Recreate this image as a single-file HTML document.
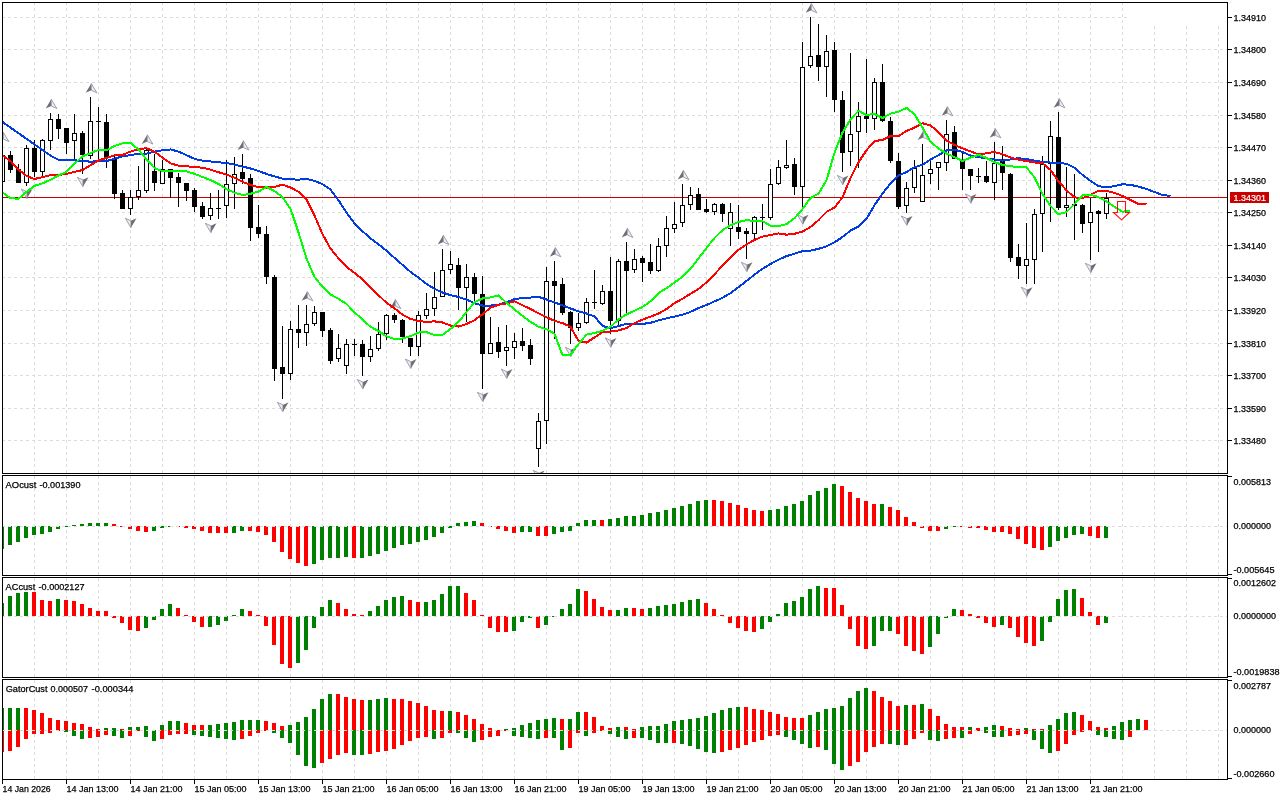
<!DOCTYPE html><html><head><meta charset="utf-8"><style>html,body{margin:0;padding:0;background:#fff;}svg{display:block;}text{font-family:"Liberation Sans",sans-serif;}svg text{opacity:0.999}</style></head><body>
<svg width="1280" height="800" viewBox="0 0 1280 800">
<rect x="0" y="0" width="1280" height="800" fill="#fff"/>
<path d="M34.5 2V473 M66.5 2V473 M98.5 2V473 M130.5 2V473 M162.5 2V473 M194.5 2V473 M226.5 2V473 M258.5 2V473 M290.5 2V473 M322.5 2V473 M354.5 2V473 M386.5 2V473 M418.5 2V473 M450.5 2V473 M482.5 2V473 M514.5 2V473 M546.5 2V473 M578.5 2V473 M610.5 2V473 M642.5 2V473 M674.5 2V473 M706.5 2V473 M738.5 2V473 M770.5 2V473 M802.5 2V473 M834.5 2V473 M866.5 2V473 M898.5 2V473 M930.5 2V473 M962.5 2V473 M994.5 2V473 M1026.5 2V473 M1058.5 2V473 M1090.5 2V473 M1122.5 2V473 M1154.5 26V473 M1186.5 26V473 M1218.5 26V473 M34.5 476V575 M66.5 476V575 M98.5 476V575 M130.5 476V575 M162.5 476V575 M194.5 476V575 M226.5 476V575 M258.5 476V575 M290.5 476V575 M322.5 476V575 M354.5 476V575 M386.5 476V575 M418.5 476V575 M450.5 476V575 M482.5 476V575 M514.5 476V575 M546.5 476V575 M578.5 476V575 M610.5 476V575 M642.5 476V575 M674.5 476V575 M706.5 476V575 M738.5 476V575 M770.5 476V575 M802.5 476V575 M834.5 476V575 M866.5 476V575 M898.5 476V575 M930.5 476V575 M962.5 476V575 M994.5 476V575 M1026.5 476V575 M1058.5 476V575 M1090.5 476V575 M1122.5 476V575 M1154.5 476V575 M1186.5 476V575 M1218.5 476V575 M34.5 578V677 M66.5 578V677 M98.5 578V677 M130.5 578V677 M162.5 578V677 M194.5 578V677 M226.5 578V677 M258.5 578V677 M290.5 578V677 M322.5 578V677 M354.5 578V677 M386.5 578V677 M418.5 578V677 M450.5 578V677 M482.5 578V677 M514.5 578V677 M546.5 578V677 M578.5 578V677 M610.5 578V677 M642.5 578V677 M674.5 578V677 M706.5 578V677 M738.5 578V677 M770.5 578V677 M802.5 578V677 M834.5 578V677 M866.5 578V677 M898.5 578V677 M930.5 578V677 M962.5 578V677 M994.5 578V677 M1026.5 578V677 M1058.5 578V677 M1090.5 578V677 M1122.5 578V677 M1154.5 578V677 M1186.5 578V677 M1218.5 578V677 M34.5 680V779 M66.5 680V779 M98.5 680V779 M130.5 680V779 M162.5 680V779 M194.5 680V779 M226.5 680V779 M258.5 680V779 M290.5 680V779 M322.5 680V779 M354.5 680V779 M386.5 680V779 M418.5 680V779 M450.5 680V779 M482.5 680V779 M514.5 680V779 M546.5 680V779 M578.5 680V779 M610.5 680V779 M642.5 680V779 M674.5 680V779 M706.5 680V779 M738.5 680V779 M770.5 680V779 M802.5 680V779 M834.5 680V779 M866.5 680V779 M898.5 680V779 M930.5 680V779 M962.5 680V779 M994.5 680V779 M1026.5 680V779 M1058.5 680V779 M1090.5 680V779 M1122.5 680V779 M1154.5 680V779 M1186.5 680V779 M1218.5 680V779 M2 17.5H1128 M2 49.5H1227 M2 82.5H1227 M2 115.5H1227 M2 147.5H1227 M2 180.5H1227 M2 212.5H1227 M2 245.5H1227 M2 277.5H1227 M2 310.5H1227 M2 343.5H1227 M2 375.5H1227 M2 408.5H1227 M2 440.5H1227" stroke="#dcdcdc" stroke-width="1" stroke-dasharray="3 3" fill="none" shape-rendering="crispEdges"/>
<defs>
<clipPath id="cm"><rect x="3" y="3" width="1224" height="470"/></clipPath>
<clipPath id="c1"><rect x="3" y="476" width="1224" height="99"/></clipPath>
<clipPath id="c2"><rect x="3" y="578" width="1224" height="99"/></clipPath>
<clipPath id="c3"><rect x="3" y="680" width="1224" height="99"/></clipPath>
</defs>
<g clip-path="url(#c1)" shape-rendering="crispEdges">
<path d="M0 526h4v23h-4zM8 526h4v19h-4zM16 526h4v16h-4zM24 526h4v12h-4zM32 526h4v9h-4zM40 526h4v8h-4zM48 526h4v6h-4zM56 526h4v3h-4zM64 526h4v1h-4zM72 525h4v1h-4zM80 524h4v2h-4zM88 523h4v3h-4zM96 523h4v3h-4zM104 523h4v3h-4zM152 526h4v5h-4zM160 526h4v2h-4zM168 526h4v1h-4zM232 526h4v7h-4zM240 526h4v5h-4zM312 526h4v38h-4zM320 526h4v34h-4zM328 526h4v32h-4zM336 526h4v32h-4zM344 526h4v31h-4zM360 526h4v32h-4zM368 526h4v30h-4zM376 526h4v28h-4zM384 526h4v25h-4zM392 526h4v22h-4zM400 526h4v19h-4zM408 526h4v18h-4zM416 526h4v16h-4zM424 526h4v14h-4zM432 526h4v11h-4zM440 526h4v7h-4zM448 526h4v2h-4zM456 523h4v3h-4zM464 522h4v4h-4zM472 521h4v5h-4zM520 526h4v6h-4zM528 526h4v6h-4zM552 526h4v8h-4zM560 526h4v6h-4zM568 526h4v5h-4zM576 523h4v3h-4zM584 520h4v6h-4zM592 520h4v6h-4zM608 519h4v7h-4zM616 518h4v8h-4zM624 516h4v10h-4zM632 516h4v10h-4zM640 515h4v11h-4zM648 513h4v13h-4zM656 512h4v14h-4zM664 510h4v16h-4zM672 508h4v18h-4zM680 506h4v20h-4zM688 504h4v22h-4zM696 501h4v25h-4zM704 500h4v26h-4zM768 510h4v16h-4zM776 509h4v17h-4zM784 506h4v20h-4zM792 504h4v22h-4zM800 501h4v25h-4zM808 495h4v31h-4zM816 491h4v35h-4zM824 488h4v38h-4zM832 484h4v42h-4zM880 504h4v22h-4zM944 526h4v3h-4zM952 526h4v1h-4zM1048 526h4v21h-4zM1056 526h4v15h-4zM1064 526h4v12h-4zM1072 526h4v9h-4zM1080 526h4v8h-4zM1104 526h4v12h-4z" fill="#008000"/>
<path d="M112 524h4v2h-4zM120 526h4v1h-4zM128 526h4v3h-4zM136 526h4v5h-4zM144 526h4v6h-4zM176 526h4v1h-4zM184 526h4v2h-4zM192 526h4v3h-4zM200 526h4v5h-4zM208 526h4v7h-4zM216 526h4v7h-4zM224 526h4v7h-4zM248 526h4v5h-4zM256 526h4v6h-4zM264 526h4v9h-4zM272 526h4v16h-4zM280 526h4v26h-4zM288 526h4v33h-4zM296 526h4v37h-4zM304 526h4v40h-4zM352 526h4v32h-4zM480 523h4v3h-4zM488 526h4v1h-4zM496 526h4v3h-4zM504 526h4v5h-4zM512 526h4v7h-4zM536 526h4v10h-4zM544 526h4v10h-4zM600 520h4v6h-4zM712 500h4v26h-4zM720 501h4v25h-4zM728 503h4v23h-4zM736 505h4v21h-4zM744 508h4v18h-4zM752 510h4v16h-4zM760 511h4v15h-4zM840 486h4v40h-4zM848 492h4v34h-4zM856 498h4v28h-4zM864 501h4v25h-4zM872 504h4v22h-4zM888 507h4v19h-4zM896 510h4v16h-4zM904 517h4v9h-4zM912 522h4v4h-4zM920 526h4v2h-4zM928 526h4v5h-4zM936 526h4v5h-4zM960 526h4v1h-4zM968 526h4v2h-4zM976 526h4v2h-4zM984 526h4v4h-4zM992 526h4v6h-4zM1000 526h4v6h-4zM1008 526h4v8h-4zM1016 526h4v13h-4zM1024 526h4v18h-4zM1032 526h4v22h-4zM1040 526h4v24h-4zM1088 526h4v10h-4zM1096 526h4v12h-4z" fill="#ff0000"/>
</g>
<g clip-path="url(#c2)" shape-rendering="crispEdges">
<path d="M0 603h4v13h-4zM8 596h4v20h-4zM16 593h4v23h-4zM24 592h4v24h-4zM56 599h4v17h-4zM144 616h4v12h-4zM152 616h4v4h-4zM160 609h4v7h-4zM168 604h4v12h-4zM208 616h4v11h-4zM216 616h4v9h-4zM224 616h4v5h-4zM232 615h4v1h-4zM240 609h4v7h-4zM296 616h4v47h-4zM304 616h4v34h-4zM312 616h4v12h-4zM320 607h4v9h-4zM328 600h4v16h-4zM368 611h4v5h-4zM376 606h4v10h-4zM384 600h4v16h-4zM392 597h4v19h-4zM400 596h4v20h-4zM424 602h4v14h-4zM432 600h4v16h-4zM440 594h4v22h-4zM448 586h4v30h-4zM456 586h4v30h-4zM512 616h4v15h-4zM520 616h4v6h-4zM528 616h4v2h-4zM544 616h4v9h-4zM552 616h4v1h-4zM560 609h4v7h-4zM568 604h4v12h-4zM576 589h4v27h-4zM616 610h4v6h-4zM624 608h4v8h-4zM648 608h4v8h-4zM656 606h4v10h-4zM664 605h4v11h-4zM672 604h4v12h-4zM680 602h4v14h-4zM688 600h4v16h-4zM696 599h4v17h-4zM760 616h4v13h-4zM768 616h4v6h-4zM776 614h4v2h-4zM784 603h4v13h-4zM792 601h4v15h-4zM800 597h4v19h-4zM808 589h4v27h-4zM816 586h4v30h-4zM872 616h4v30h-4zM880 616h4v15h-4zM888 616h4v15h-4zM928 616h4v31h-4zM936 616h4v18h-4zM944 616h4v2h-4zM952 609h4v7h-4zM1000 616h4v9h-4zM1040 616h4v25h-4zM1048 616h4v6h-4zM1056 599h4v17h-4zM1064 590h4v26h-4zM1072 589h4v27h-4zM1104 616h4v7h-4z" fill="#008000"/>
<path d="M32 592h4v24h-4zM40 600h4v16h-4zM48 601h4v15h-4zM64 600h4v16h-4zM72 601h4v15h-4zM80 604h4v12h-4zM88 608h4v8h-4zM96 611h4v5h-4zM104 611h4v5h-4zM112 616h4v2h-4zM120 616h4v7h-4zM128 616h4v14h-4zM136 616h4v15h-4zM176 608h4v8h-4zM184 615h4v1h-4zM192 616h4v6h-4zM200 616h4v11h-4zM248 611h4v5h-4zM256 615h4v1h-4zM264 616h4v10h-4zM272 616h4v29h-4zM280 616h4v48h-4zM288 616h4v52h-4zM336 603h4v13h-4zM344 609h4v7h-4zM352 614h4v2h-4zM360 615h4v1h-4zM408 600h4v16h-4zM416 602h4v14h-4zM464 593h4v23h-4zM472 600h4v16h-4zM480 615h4v1h-4zM488 616h4v12h-4zM496 616h4v16h-4zM504 616h4v16h-4zM536 616h4v12h-4zM584 591h4v25h-4zM592 599h4v17h-4zM600 607h4v9h-4zM608 610h4v6h-4zM632 608h4v8h-4zM640 609h4v7h-4zM704 603h4v13h-4zM712 609h4v7h-4zM720 615h4v1h-4zM728 616h4v7h-4zM736 616h4v12h-4zM744 616h4v15h-4zM752 616h4v16h-4zM824 588h4v28h-4zM832 588h4v28h-4zM840 605h4v11h-4zM848 616h4v13h-4zM856 616h4v30h-4zM864 616h4v33h-4zM896 616h4v18h-4zM904 616h4v30h-4zM912 616h4v35h-4zM920 616h4v38h-4zM960 610h4v6h-4zM968 614h4v2h-4zM976 616h4v2h-4zM984 616h4v7h-4zM992 616h4v11h-4zM1008 616h4v12h-4zM1016 616h4v21h-4zM1024 616h4v27h-4zM1032 616h4v30h-4zM1080 598h4v18h-4zM1088 612h4v4h-4zM1096 616h4v9h-4z" fill="#ff0000"/>
</g>
<g clip-path="url(#c3)" shape-rendering="crispEdges">
<path d="M0 708h4v22h-4zM8 708h4v22h-4zM16 708h4v22h-4zM104 728h4v2h-4zM112 728h4v2h-4zM128 727h4v3h-4zM136 727h4v3h-4zM144 726h4v4h-4zM160 725h4v5h-4zM168 721h4v9h-4zM176 721h4v9h-4zM208 725h4v5h-4zM216 724h4v6h-4zM224 723h4v7h-4zM232 722h4v8h-4zM240 720h4v10h-4zM248 720h4v10h-4zM256 720h4v10h-4zM288 725h4v5h-4zM296 722h4v8h-4zM304 717h4v13h-4zM312 709h4v21h-4zM320 699h4v31h-4zM328 694h4v36h-4zM368 700h4v30h-4zM376 699h4v31h-4zM384 698h4v32h-4zM448 711h4v19h-4zM504 729h4v1h-4zM512 728h4v2h-4zM520 725h4v5h-4zM528 723h4v7h-4zM536 720h4v10h-4zM544 719h4v11h-4zM552 718h4v12h-4zM568 719h4v11h-4zM576 712h4v18h-4zM616 727h4v3h-4zM640 727h4v3h-4zM648 726h4v4h-4zM656 726h4v4h-4zM664 724h4v6h-4zM672 721h4v9h-4zM680 720h4v10h-4zM688 719h4v11h-4zM696 718h4v12h-4zM704 716h4v14h-4zM712 713h4v17h-4zM720 710h4v20h-4zM728 708h4v22h-4zM736 707h4v23h-4zM808 715h4v15h-4zM816 712h4v18h-4zM824 709h4v21h-4zM832 708h4v22h-4zM840 706h4v24h-4zM848 698h4v32h-4zM856 691h4v39h-4zM864 688h4v42h-4zM904 705h4v25h-4zM920 704h4v26h-4zM968 727h4v3h-4zM984 727h4v3h-4zM992 725h4v5h-4zM1024 728h4v2h-4zM1048 725h4v5h-4zM1056 719h4v11h-4zM1064 713h4v17h-4zM1072 712h4v18h-4zM1112 726h4v4h-4zM1120 722h4v8h-4zM1128 720h4v10h-4zM1136 719h4v11h-4z" fill="#008000"/>
<path d="M24 708h4v22h-4zM32 710h4v20h-4zM40 713h4v17h-4zM48 718h4v12h-4zM56 720h4v10h-4zM64 721h4v9h-4zM72 723h4v7h-4zM80 724h4v6h-4zM88 727h4v3h-4zM96 729h4v1h-4zM120 729h4v1h-4zM184 723h4v7h-4zM192 725h4v5h-4zM200 725h4v5h-4zM264 721h4v9h-4zM272 723h4v7h-4zM280 726h4v4h-4zM336 694h4v36h-4zM344 697h4v33h-4zM352 699h4v31h-4zM360 700h4v30h-4zM392 699h4v31h-4zM400 699h4v31h-4zM408 701h4v29h-4zM416 703h4v27h-4zM424 706h4v24h-4zM432 710h4v20h-4zM440 711h4v19h-4zM456 712h4v18h-4zM464 715h4v15h-4zM472 719h4v11h-4zM480 724h4v6h-4zM488 728h4v2h-4zM560 719h4v11h-4zM584 712h4v18h-4zM592 717h4v13h-4zM600 726h4v4h-4zM608 728h4v2h-4zM624 727h4v3h-4zM632 729h4v1h-4zM744 707h4v23h-4zM752 709h4v21h-4zM760 710h4v20h-4zM768 712h4v18h-4zM776 714h4v16h-4zM784 717h4v13h-4zM792 718h4v12h-4zM800 718h4v12h-4zM872 691h4v39h-4zM880 697h4v33h-4zM888 701h4v29h-4zM896 706h4v24h-4zM912 705h4v25h-4zM928 709h4v21h-4zM936 716h4v14h-4zM944 724h4v6h-4zM952 727h4v3h-4zM960 727h4v3h-4zM976 728h4v2h-4zM1000 726h4v4h-4zM1008 728h4v2h-4zM1016 729h4v1h-4zM1032 729h4v1h-4zM1040 729h4v1h-4zM1080 715h4v15h-4zM1088 721h4v9h-4zM1096 727h4v3h-4zM1104 728h4v2h-4zM1144 720h4v10h-4z" fill="#ff0000"/>
</g>
<g clip-path="url(#c3)" shape-rendering="crispEdges">
<path d="M64 730h4v2h-4zM72 730h4v6h-4zM80 730h4v9h-4zM112 730h4v6h-4zM120 730h4v8h-4zM144 730h4v7h-4zM152 730h4v11h-4zM192 730h4v5h-4zM200 730h4v6h-4zM208 730h4v7h-4zM216 730h4v8h-4zM224 730h4v9h-4zM232 730h4v10h-4zM272 730h4v3h-4zM280 730h4v8h-4zM288 730h4v13h-4zM296 730h4v25h-4zM304 730h4v36h-4zM312 730h4v38h-4zM352 730h4v25h-4zM360 730h4v25h-4zM432 730h4v9h-4zM456 730h4v3h-4zM464 730h4v8h-4zM472 730h4v12h-4zM512 730h4v6h-4zM520 730h4v7h-4zM528 730h4v8h-4zM536 730h4v9h-4zM552 730h4v8h-4zM560 730h4v20h-4zM584 730h4v6h-4zM608 730h4v4h-4zM616 730h4v7h-4zM624 730h4v9h-4zM640 730h4v8h-4zM648 730h4v10h-4zM656 730h4v13h-4zM664 730h4v13h-4zM680 730h4v14h-4zM688 730h4v16h-4zM696 730h4v19h-4zM704 730h4v22h-4zM712 730h4v23h-4zM784 730h4v7h-4zM792 730h4v10h-4zM800 730h4v14h-4zM808 730h4v18h-4zM824 730h4v20h-4zM832 730h4v34h-4zM840 730h4v40h-4zM888 730h4v14h-4zM896 730h4v15h-4zM928 730h4v10h-4zM936 730h4v11h-4zM960 730h4v8h-4zM984 730h4v3h-4zM992 730h4v7h-4zM1000 730h4v7h-4zM1032 730h4v10h-4zM1040 730h4v19h-4zM1048 730h4v23h-4zM1096 730h4v5h-4zM1104 730h4v7h-4zM1112 730h4v9h-4zM1120 730h4v10h-4z" fill="#008000"/>
<path d="M0 730h4v22h-4zM8 730h4v21h-4zM16 730h4v17h-4zM24 730h4v9h-4zM32 730h4v4h-4zM40 730h4v4h-4zM48 730h4v3h-4zM56 730h4v1h-4zM88 730h4v8h-4zM96 730h4v7h-4zM104 730h4v5h-4zM128 730h4v6h-4zM136 730h4v1h-4zM160 730h4v9h-4zM168 730h4v5h-4zM176 730h4v4h-4zM184 730h4v4h-4zM240 730h4v9h-4zM248 730h4v6h-4zM256 730h4v3h-4zM264 730h4v1h-4zM320 730h4v33h-4zM328 730h4v29h-4zM336 730h4v25h-4zM344 730h4v23h-4zM368 730h4v24h-4zM376 730h4v22h-4zM384 730h4v21h-4zM392 730h4v19h-4zM400 730h4v15h-4zM408 730h4v11h-4zM416 730h4v8h-4zM424 730h4v7h-4zM440 730h4v8h-4zM448 730h4v3h-4zM480 730h4v10h-4zM488 730h4v7h-4zM496 730h4v6h-4zM504 730h4v1h-4zM544 730h4v8h-4zM568 730h4v18h-4zM576 730h4v3h-4zM592 730h4v3h-4zM600 730h4v1h-4zM632 730h4v8h-4zM672 730h4v13h-4zM720 730h4v22h-4zM728 730h4v20h-4zM736 730h4v18h-4zM744 730h4v15h-4zM752 730h4v12h-4zM760 730h4v10h-4zM768 730h4v6h-4zM776 730h4v5h-4zM816 730h4v17h-4zM848 730h4v36h-4zM856 730h4v32h-4zM864 730h4v22h-4zM872 730h4v17h-4zM880 730h4v14h-4zM904 730h4v15h-4zM912 730h4v9h-4zM920 730h4v3h-4zM944 730h4v9h-4zM952 730h4v8h-4zM968 730h4v4h-4zM976 730h4v1h-4zM1008 730h4v6h-4zM1016 730h4v5h-4zM1024 730h4v4h-4zM1056 730h4v21h-4zM1064 730h4v14h-4zM1072 730h4v5h-4zM1080 730h4v2h-4zM1088 730h4v1h-4zM1128 730h4v7h-4z" fill="#ff0000"/>
</g>
<path d="M2 526.5H1227 M2 616.5H1227 M2 730.5H1227" stroke="#dcdcdc" stroke-width="1" stroke-dasharray="3 3" fill="none" shape-rendering="crispEdges"/>
<g clip-path="url(#cm)">
<path d="M3 197.5H1227" stroke="#c80000" stroke-width="1" shape-rendering="crispEdges"/>
<path d="M2.5 146V182M10.5 151V173M18.5 164V183M26.5 145V186M34.5 140V177M42.5 139V176M50.5 113V150M58.5 114V139M66.5 128V154M74.5 114V160M82.5 131V174M90.5 97V159M98.5 107V159M106.5 114V168M114.5 154V199M122.5 190V209M130.5 190V215M138.5 166V200M146.5 149V193M154.5 154V191M162.5 160V184M170.5 169V198M178.5 173V207M186.5 183V201M194.5 188V212M202.5 202V219M210.5 193V220M218.5 190V219M226.5 160V218M234.5 157V209M242.5 154V184M250.5 174V241M258.5 205V238M266.5 226V284M274.5 275V381M282.5 326V399M290.5 321V380M298.5 305V348M306.5 305V346M314.5 306V326M322.5 312V337M330.5 328V364M338.5 334V362M346.5 339V374M354.5 339V356M362.5 340V376M370.5 336V362M378.5 322V351M386.5 314V340M394.5 313V323M402.5 319V343M410.5 338V356M418.5 311V356M426.5 293V319M434.5 272V316M442.5 249V297M450.5 251V274M458.5 258V310M466.5 264V322M474.5 273V301M482.5 276V389M490.5 317V354M498.5 327V358M506.5 325V366M514.5 333V359M522.5 328V351M530.5 339V365M538.5 413V467M546.5 267V444M554.5 261V339M562.5 278V315M570.5 311V344M578.5 313V331M586.5 298V324M594.5 270V309M602.5 285V305M610.5 257V334M618.5 259V325M626.5 242V314M634.5 249V273M642.5 256V282M650.5 244V274M658.5 238V272M666.5 216V257M674.5 202V233M682.5 184V227M690.5 187V210M698.5 188V210M706.5 199V213M714.5 203V215M722.5 203V222M730.5 203V246M738.5 205V239M746.5 228V259M754.5 216V239M762.5 204V230M770.5 169V220M778.5 160V185M786.5 140V169M794.5 158V195M802.5 42V211M810.5 17V68M818.5 24V81M826.5 35V97M834.5 42V112M842.5 91V172M850.5 53V166M858.5 102V168M866.5 59V133M874.5 78V130M882.5 64V122M890.5 117V163M898.5 153V209M906.5 182V213M914.5 160V193M922.5 144V202M930.5 161V184M938.5 162V190M946.5 120V171M954.5 126V159M962.5 151V190M970.5 169V190M978.5 168V183M986.5 161V183M994.5 142V200M1002.5 146V190M1010.5 173V262M1018.5 244V279M1026.5 223V284M1034.5 209V284M1042.5 156V252M1050.5 121V222M1058.5 112V210M1066.5 167V217M1074.5 174V240M1082.5 204V233M1090.5 198V260M1098.5 210V252M1106.5 193V219" stroke="#000" stroke-width="1" fill="none" shape-rendering="crispEdges"/>
<path d="M8 155h5v15h-5zM16 169h5v14h-5zM32 148h5v24h-5zM56 119h5v10h-5zM64 128h5v15h-5zM80 133h5v22h-5zM96 121h5v1h-5zM104 122h5v36h-5zM112 158h5v36h-5zM120 193h5v16h-5zM152 171h5v12h-5zM168 169h5v9h-5zM176 177h5v6h-5zM184 183h5v8h-5zM192 190h5v17h-5zM200 206h5v11h-5zM216 208h5v1h-5zM240 172h5v7h-5zM248 178h5v50h-5zM256 227h5v7h-5zM264 234h5v43h-5zM272 277h5v92h-5zM280 367h5v7h-5zM296 329h5v4h-5zM320 312h5v19h-5zM328 330h5v31h-5zM352 344h5v1h-5zM360 344h5v13h-5zM392 315h5v5h-5zM400 320h5v17h-5zM408 338h5v9h-5zM456 265h5v23h-5zM472 277h5v17h-5zM480 294h5v60h-5zM496 342h5v10h-5zM520 341h5v5h-5zM528 345h5v14h-5zM552 281h5v5h-5zM560 284h5v29h-5zM568 312h5v16h-5zM592 302h5v1h-5zM608 291h5v30h-5zM624 261h5v10h-5zM640 258h5v5h-5zM648 262h5v9h-5zM696 194h5v16h-5zM704 209h5v3h-5zM720 204h5v10h-5zM736 227h5v5h-5zM744 231h5v3h-5zM760 217h5v1h-5zM792 164h5v23h-5zM816 55h5v12h-5zM832 50h5v50h-5zM840 100h5v53h-5zM864 116h5v3h-5zM880 82h5v39h-5zM888 121h5v40h-5zM896 161h5v46h-5zM952 132h5v27h-5zM960 159h5v10h-5zM968 169h5v7h-5zM976 176h5v1h-5zM984 176h5v6h-5zM1000 161h5v12h-5zM1008 174h5v84h-5zM1016 257h5v9h-5zM1056 137h5v71h-5zM1072 204h5v2h-5zM1080 205h5v19h-5zM1096 211h5v3h-5z" fill="#000" shape-rendering="crispEdges"/>
<g shape-rendering="crispEdges"><rect x="0.5" y="155.5" width="4" height="26" fill="#fff" stroke="#000" stroke-width="1"/><rect x="24.5" y="148.5" width="4" height="34" fill="#fff" stroke="#000" stroke-width="1"/><rect x="40.5" y="140.5" width="4" height="31" fill="#fff" stroke="#000" stroke-width="1"/><rect x="48.5" y="119.5" width="4" height="21" fill="#fff" stroke="#000" stroke-width="1"/><rect x="72.5" y="133.5" width="4" height="7" fill="#fff" stroke="#000" stroke-width="1"/><rect x="88.5" y="121.5" width="4" height="34" fill="#fff" stroke="#000" stroke-width="1"/><rect x="128.5" y="197.5" width="4" height="11" fill="#fff" stroke="#000" stroke-width="1"/><rect x="136.5" y="190.5" width="4" height="6" fill="#fff" stroke="#000" stroke-width="1"/><rect x="144.5" y="150.5" width="4" height="40" fill="#fff" stroke="#000" stroke-width="1"/><rect x="160.5" y="169.5" width="4" height="14" fill="#fff" stroke="#000" stroke-width="1"/><rect x="208.5" y="208.5" width="4" height="7" fill="#fff" stroke="#000" stroke-width="1"/><rect x="224.5" y="184.5" width="4" height="21" fill="#fff" stroke="#000" stroke-width="1"/><rect x="232.5" y="174.5" width="4" height="9" fill="#fff" stroke="#000" stroke-width="1"/><rect x="288.5" y="329.5" width="4" height="44" fill="#fff" stroke="#000" stroke-width="1"/><rect x="304.5" y="324.5" width="4" height="8" fill="#fff" stroke="#000" stroke-width="1"/><rect x="312.5" y="312.5" width="4" height="11" fill="#fff" stroke="#000" stroke-width="1"/><rect x="336.5" y="348.5" width="4" height="10" fill="#fff" stroke="#000" stroke-width="1"/><rect x="344.5" y="344.5" width="4" height="21" fill="#fff" stroke="#000" stroke-width="1"/><rect x="368.5" y="349.5" width="4" height="7" fill="#fff" stroke="#000" stroke-width="1"/><rect x="376.5" y="334.5" width="4" height="14" fill="#fff" stroke="#000" stroke-width="1"/><rect x="384.5" y="315.5" width="4" height="18" fill="#fff" stroke="#000" stroke-width="1"/><rect x="416.5" y="315.5" width="4" height="31" fill="#fff" stroke="#000" stroke-width="1"/><rect x="424.5" y="309.5" width="4" height="6" fill="#fff" stroke="#000" stroke-width="1"/><rect x="432.5" y="297.5" width="4" height="11" fill="#fff" stroke="#000" stroke-width="1"/><rect x="440.5" y="270.5" width="4" height="26" fill="#fff" stroke="#000" stroke-width="1"/><rect x="448.5" y="264.5" width="4" height="5" fill="#fff" stroke="#000" stroke-width="1"/><rect x="464.5" y="277.5" width="4" height="10" fill="#fff" stroke="#000" stroke-width="1"/><rect x="488.5" y="343.5" width="4" height="10" fill="#fff" stroke="#000" stroke-width="1"/><rect x="504.5" y="347.5" width="4" height="3" fill="#fff" stroke="#000" stroke-width="1"/><rect x="512.5" y="341.5" width="4" height="6" fill="#fff" stroke="#000" stroke-width="1"/><rect x="536.5" y="421.5" width="4" height="27" fill="#fff" stroke="#000" stroke-width="1"/><rect x="544.5" y="281.5" width="4" height="139" fill="#fff" stroke="#000" stroke-width="1"/><rect x="576.5" y="323.5" width="4" height="4" fill="#fff" stroke="#000" stroke-width="1"/><rect x="584.5" y="302.5" width="4" height="20" fill="#fff" stroke="#000" stroke-width="1"/><rect x="600.5" y="291.5" width="4" height="12" fill="#fff" stroke="#000" stroke-width="1"/><rect x="616.5" y="261.5" width="4" height="59" fill="#fff" stroke="#000" stroke-width="1"/><rect x="632.5" y="259.5" width="4" height="10" fill="#fff" stroke="#000" stroke-width="1"/><rect x="656.5" y="246.5" width="4" height="24" fill="#fff" stroke="#000" stroke-width="1"/><rect x="664.5" y="228.5" width="4" height="17" fill="#fff" stroke="#000" stroke-width="1"/><rect x="672.5" y="224.5" width="4" height="4" fill="#fff" stroke="#000" stroke-width="1"/><rect x="680.5" y="205.5" width="4" height="17" fill="#fff" stroke="#000" stroke-width="1"/><rect x="688.5" y="195.5" width="4" height="9" fill="#fff" stroke="#000" stroke-width="1"/><rect x="712.5" y="204.5" width="4" height="7" fill="#fff" stroke="#000" stroke-width="1"/><rect x="728.5" y="212.5" width="4" height="16" fill="#fff" stroke="#000" stroke-width="1"/><rect x="752.5" y="217.5" width="4" height="16" fill="#fff" stroke="#000" stroke-width="1"/><rect x="768.5" y="184.5" width="4" height="33" fill="#fff" stroke="#000" stroke-width="1"/><rect x="776.5" y="167.5" width="4" height="16" fill="#fff" stroke="#000" stroke-width="1"/><rect x="784.5" y="165.5" width="4" height="2" fill="#fff" stroke="#000" stroke-width="1"/><rect x="800.5" y="67.5" width="4" height="119" fill="#fff" stroke="#000" stroke-width="1"/><rect x="808.5" y="56.5" width="4" height="9" fill="#fff" stroke="#000" stroke-width="1"/><rect x="824.5" y="51.5" width="4" height="15" fill="#fff" stroke="#000" stroke-width="1"/><rect x="848.5" y="134.5" width="4" height="17" fill="#fff" stroke="#000" stroke-width="1"/><rect x="856.5" y="116.5" width="4" height="15" fill="#fff" stroke="#000" stroke-width="1"/><rect x="872.5" y="82.5" width="4" height="36" fill="#fff" stroke="#000" stroke-width="1"/><rect x="904.5" y="188.5" width="4" height="17" fill="#fff" stroke="#000" stroke-width="1"/><rect x="912.5" y="168.5" width="4" height="19" fill="#fff" stroke="#000" stroke-width="1"/><rect x="920.5" y="175.5" width="4" height="26" fill="#fff" stroke="#000" stroke-width="1"/><rect x="928.5" y="169.5" width="4" height="4" fill="#fff" stroke="#000" stroke-width="1"/><rect x="936.5" y="162.5" width="4" height="5" fill="#fff" stroke="#000" stroke-width="1"/><rect x="944.5" y="134.5" width="4" height="28" fill="#fff" stroke="#000" stroke-width="1"/><rect x="992.5" y="163.5" width="4" height="19" fill="#fff" stroke="#000" stroke-width="1"/><rect x="1024.5" y="259.5" width="4" height="6" fill="#fff" stroke="#000" stroke-width="1"/><rect x="1032.5" y="214.5" width="4" height="45" fill="#fff" stroke="#000" stroke-width="1"/><rect x="1040.5" y="164.5" width="4" height="49" fill="#fff" stroke="#000" stroke-width="1"/><rect x="1048.5" y="136.5" width="4" height="27" fill="#fff" stroke="#000" stroke-width="1"/><rect x="1064.5" y="205.5" width="4" height="2" fill="#fff" stroke="#000" stroke-width="1"/><rect x="1088.5" y="212.5" width="4" height="10" fill="#fff" stroke="#000" stroke-width="1"/><rect x="1104.5" y="198.5" width="4" height="15" fill="#fff" stroke="#000" stroke-width="1"/></g>
<polygon points="3.3,132.29999999999998 -2.3,141.6 3.3,139.0" fill="#6e6e6e"/><polygon points="3.3,132.29999999999998 8.899999999999999,141.6 3.3,139.0" fill="#e8eef8" stroke="#8a8a9a" stroke-width="0.8"/><polygon points="51.3,99.3 45.699999999999996,108.6 51.3,106.0" fill="#6e6e6e"/><polygon points="51.3,99.3 56.9,108.6 51.3,106.0" fill="#e8eef8" stroke="#8a8a9a" stroke-width="0.8"/><polygon points="91.3,83.55 85.7,92.85 91.3,90.25" fill="#6e6e6e"/><polygon points="91.3,83.55 96.89999999999999,92.85 91.3,90.25" fill="#e8eef8" stroke="#8a8a9a" stroke-width="0.8"/><polygon points="147.3,134.79999999999998 141.70000000000002,144.1 147.3,141.5" fill="#6e6e6e"/><polygon points="147.3,134.79999999999998 152.9,144.1 147.3,141.5" fill="#e8eef8" stroke="#8a8a9a" stroke-width="0.8"/><polygon points="243.3,140.7 237.70000000000002,150.0 243.3,147.4" fill="#6e6e6e"/><polygon points="243.3,140.7 248.9,150.0 243.3,147.4" fill="#e8eef8" stroke="#8a8a9a" stroke-width="0.8"/><polygon points="307.3,291.55 301.7,300.85 307.3,298.25" fill="#6e6e6e"/><polygon points="307.3,291.55 312.90000000000003,300.85 307.3,298.25" fill="#e8eef8" stroke="#8a8a9a" stroke-width="0.8"/><polygon points="395.3,299.40000000000003 389.7,308.70000000000005 395.3,306.1" fill="#6e6e6e"/><polygon points="395.3,299.40000000000003 400.90000000000003,308.70000000000005 395.3,306.1" fill="#e8eef8" stroke="#8a8a9a" stroke-width="0.8"/><polygon points="443.3,235.29999999999998 437.7,244.6 443.3,242.0" fill="#6e6e6e"/><polygon points="443.3,235.29999999999998 448.90000000000003,244.6 443.3,242.0" fill="#e8eef8" stroke="#8a8a9a" stroke-width="0.8"/><polygon points="555.3,247.55 549.6999999999999,256.85 555.3,254.25000000000003" fill="#6e6e6e"/><polygon points="555.3,247.55 560.9,256.85 555.3,254.25000000000003" fill="#e8eef8" stroke="#8a8a9a" stroke-width="0.8"/><polygon points="627.3,228.2 621.6999999999999,237.5 627.3,234.9" fill="#6e6e6e"/><polygon points="627.3,228.2 632.9,237.5 627.3,234.9" fill="#e8eef8" stroke="#8a8a9a" stroke-width="0.8"/><polygon points="683.3,170.29999999999998 677.6999999999999,179.6 683.3,177.0" fill="#6e6e6e"/><polygon points="683.3,170.29999999999998 688.9,179.6 683.3,177.0" fill="#e8eef8" stroke="#8a8a9a" stroke-width="0.8"/><polygon points="811.3,3.549999999999999 805.6999999999999,12.85 811.3,10.25" fill="#6e6e6e"/><polygon points="811.3,3.549999999999999 816.9,12.85 811.3,10.25" fill="#e8eef8" stroke="#8a8a9a" stroke-width="0.8"/><polygon points="923.3,130.7 917.6999999999999,140.0 923.3,137.4" fill="#6e6e6e"/><polygon points="923.3,130.7 928.9,140.0 923.3,137.4" fill="#e8eef8" stroke="#8a8a9a" stroke-width="0.8"/><polygon points="947.3,106.55 941.6999999999999,115.85 947.3,113.25" fill="#6e6e6e"/><polygon points="947.3,106.55 952.9,115.85 947.3,113.25" fill="#e8eef8" stroke="#8a8a9a" stroke-width="0.8"/><polygon points="995.3,128.54999999999998 989.6999999999999,137.85 995.3,135.25" fill="#6e6e6e"/><polygon points="995.3,128.54999999999998 1000.9,137.85 995.3,135.25" fill="#e8eef8" stroke="#8a8a9a" stroke-width="0.8"/><polygon points="1059.3,98.55 1053.7,107.85 1059.3,105.25" fill="#6e6e6e"/><polygon points="1059.3,98.55 1064.8999999999999,107.85 1059.3,105.25" fill="#e8eef8" stroke="#8a8a9a" stroke-width="0.8"/><polygon points="26.9,198.5 32.5,189.1 26.9,191.7" fill="#6e6e6e"/><polygon points="26.9,198.5 21.299999999999997,189.1 26.9,191.7" fill="#e8eef8" stroke="#8a8a9a" stroke-width="0.8"/><polygon points="82.9,186.65 88.5,177.25 82.9,179.85" fill="#6e6e6e"/><polygon points="82.9,186.65 77.30000000000001,177.25 82.9,179.85" fill="#e8eef8" stroke="#8a8a9a" stroke-width="0.8"/><polygon points="130.9,227.65 136.5,218.25 130.9,220.85" fill="#6e6e6e"/><polygon points="130.9,227.65 125.30000000000001,218.25 130.9,220.85" fill="#e8eef8" stroke="#8a8a9a" stroke-width="0.8"/><polygon points="210.9,232.65 216.5,223.25 210.9,225.85" fill="#6e6e6e"/><polygon points="210.9,232.65 205.3,223.25 210.9,225.85" fill="#e8eef8" stroke="#8a8a9a" stroke-width="0.8"/><polygon points="282.9,411.7 288.5,402.3 282.9,404.90000000000003" fill="#6e6e6e"/><polygon points="282.9,411.7 277.29999999999995,402.3 282.9,404.90000000000003" fill="#e8eef8" stroke="#8a8a9a" stroke-width="0.8"/><polygon points="362.9,388.9 368.5,379.5 362.9,382.1" fill="#6e6e6e"/><polygon points="362.9,388.9 357.29999999999995,379.5 362.9,382.1" fill="#e8eef8" stroke="#8a8a9a" stroke-width="0.8"/><polygon points="410.9,368.5 416.5,359.1 410.9,361.70000000000005" fill="#6e6e6e"/><polygon points="410.9,368.5 405.29999999999995,359.1 410.9,361.70000000000005" fill="#e8eef8" stroke="#8a8a9a" stroke-width="0.8"/><polygon points="482.9,401.65 488.5,392.25 482.9,394.85" fill="#6e6e6e"/><polygon points="482.9,401.65 477.29999999999995,392.25 482.9,394.85" fill="#e8eef8" stroke="#8a8a9a" stroke-width="0.8"/><polygon points="506.9,378.5 512.5,369.1 506.9,371.70000000000005" fill="#6e6e6e"/><polygon points="506.9,378.5 501.29999999999995,369.1 506.9,371.70000000000005" fill="#e8eef8" stroke="#8a8a9a" stroke-width="0.8"/><polygon points="538.9,479.79999999999995 544.5,470.4 538.9,473.0" fill="#6e6e6e"/><polygon points="538.9,479.79999999999995 533.3,470.4 538.9,473.0" fill="#e8eef8" stroke="#8a8a9a" stroke-width="0.8"/><polygon points="570.9,356.65 576.5,347.25 570.9,349.85" fill="#6e6e6e"/><polygon points="570.9,356.65 565.3,347.25 570.9,349.85" fill="#e8eef8" stroke="#8a8a9a" stroke-width="0.8"/><polygon points="610.9,347.29999999999995 616.5,337.9 610.9,340.5" fill="#6e6e6e"/><polygon points="610.9,347.29999999999995 605.3,337.9 610.9,340.5" fill="#e8eef8" stroke="#8a8a9a" stroke-width="0.8"/><polygon points="746.9,271.65 752.5,262.25 746.9,264.85" fill="#6e6e6e"/><polygon points="746.9,271.65 741.3,262.25 746.9,264.85" fill="#e8eef8" stroke="#8a8a9a" stroke-width="0.8"/><polygon points="802.9,224.15 808.5,214.75 802.9,217.35" fill="#6e6e6e"/><polygon points="802.9,224.15 797.3,214.75 802.9,217.35" fill="#e8eef8" stroke="#8a8a9a" stroke-width="0.8"/><polygon points="842.9,184.8 848.5,175.4 842.9,178.0" fill="#6e6e6e"/><polygon points="842.9,184.8 837.3,175.4 842.9,178.0" fill="#e8eef8" stroke="#8a8a9a" stroke-width="0.8"/><polygon points="906.9,225.4 912.5,216.0 906.9,218.6" fill="#6e6e6e"/><polygon points="906.9,225.4 901.3,216.0 906.9,218.6" fill="#e8eef8" stroke="#8a8a9a" stroke-width="0.8"/><polygon points="970.9,203.3 976.5,193.9 970.9,196.5" fill="#6e6e6e"/><polygon points="970.9,203.3 965.3,193.9 970.9,196.5" fill="#e8eef8" stroke="#8a8a9a" stroke-width="0.8"/><polygon points="1026.9,296.59999999999997 1032.5,287.2 1026.9,289.8" fill="#6e6e6e"/><polygon points="1026.9,296.59999999999997 1021.3000000000001,287.2 1026.9,289.8" fill="#e8eef8" stroke="#8a8a9a" stroke-width="0.8"/><polygon points="1090.9,272.65 1096.5,263.25 1090.9,265.85" fill="#6e6e6e"/><polygon points="1090.9,272.65 1085.3000000000002,263.25 1090.9,265.85" fill="#e8eef8" stroke="#8a8a9a" stroke-width="0.8"/>
<polyline points="2.5,122.00 10.5,127.60 18.5,133.20 26.5,138.80 34.5,144.40 42.5,150.00 50.5,155.60 58.5,159.80 66.5,160.12 74.5,160.26 82.5,161.27 90.5,161.58 98.5,161.34 106.5,161.04 114.5,158.76 122.5,156.26 130.5,155.08 138.5,153.69 146.5,153.59 154.5,151.62 162.5,150.19 170.5,149.46 178.5,151.54 186.5,155.21 194.5,158.84 202.5,160.69 210.5,161.45 218.5,162.26 226.5,163.03 234.5,164.60 242.5,166.55 250.5,168.49 258.5,170.91 266.5,173.94 274.5,176.44 282.5,178.59 290.5,179.37 298.5,179.63 306.5,178.82 314.5,180.99 322.5,184.09 330.5,189.54 338.5,200.18 346.5,212.66 354.5,223.26 362.5,231.20 370.5,238.45 378.5,244.41 386.5,250.56 394.5,257.90 402.5,264.82 410.5,271.87 418.5,277.67 426.5,283.86 434.5,288.88 442.5,292.55 450.5,295.21 458.5,296.96 466.5,299.54 474.5,303.18 482.5,305.51 490.5,305.54 498.5,304.64 506.5,302.19 514.5,299.13 522.5,297.96 530.5,297.57 538.5,296.77 546.5,299.52 554.5,302.31 562.5,305.39 570.5,308.46 578.5,311.34 586.5,313.50 594.5,316.45 602.5,325.95 610.5,328.21 618.5,326.06 626.5,323.78 634.5,324.05 642.5,323.88 650.5,322.87 658.5,320.28 666.5,318.34 674.5,316.61 682.5,314.72 690.5,311.88 698.5,307.96 706.5,304.95 714.5,301.41 722.5,297.83 730.5,293.11 738.5,287.28 746.5,280.99 754.5,274.63 762.5,268.80 770.5,263.95 778.5,259.72 786.5,256.09 794.5,253.66 802.5,251.23 810.5,250.63 818.5,248.85 826.5,246.38 834.5,242.38 842.5,236.99 850.5,230.63 858.5,226.46 866.5,218.79 874.5,205.22 882.5,193.46 890.5,183.64 898.5,175.44 906.5,172.07 914.5,167.27 922.5,164.78 930.5,159.48 938.5,155.20 946.5,150.42 954.5,149.61 962.5,152.01 970.5,155.50 978.5,157.11 986.5,158.33 994.5,159.39 1002.5,160.64 1010.5,159.47 1018.5,158.19 1026.5,159.13 1034.5,160.70 1042.5,161.82 1050.5,162.58 1058.5,163.24 1066.5,163.61 1074.5,167.75 1082.5,174.95 1090.5,180.98 1098.5,186.03 1106.5,187.40 1114.5,186.19 1122.5,184.26 1130.5,184.85 1138.5,186.54 1146.5,189.00 1154.5,192.05 1162.5,195.05 1170.5,195.87" fill="none" stroke="#003ce0" stroke-width="2" stroke-linejoin="round" shape-rendering="crispEdges"/>
<polyline points="2.5,155.50 10.5,161.00 18.5,169.50 26.5,176.00 34.5,179.00 42.5,177.12 50.5,175.22 58.5,174.99 66.5,173.78 74.5,171.87 82.5,170.07 90.5,165.23 98.5,160.36 106.5,157.93 114.5,155.31 122.5,154.94 130.5,151.58 138.5,149.25 146.5,148.19 154.5,151.72 162.5,157.66 170.5,163.25 178.5,165.72 186.5,166.32 194.5,167.03 202.5,167.68 210.5,169.65 218.5,172.19 226.5,174.63 234.5,177.80 242.5,181.87 250.5,184.93 258.5,187.36 266.5,187.54 274.5,186.94 282.5,184.71 290.5,187.50 298.5,191.72 306.5,199.63 314.5,215.65 322.5,234.01 330.5,248.56 338.5,258.30 346.5,266.69 354.5,272.85 362.5,279.29 370.5,287.62 378.5,295.16 386.5,302.82 394.5,308.38 402.5,314.60 410.5,318.91 418.5,321.12 426.5,321.87 434.5,321.37 442.5,322.51 450.5,325.56 458.5,326.55 466.5,323.97 474.5,320.21 482.5,314.28 490.5,307.79 498.5,304.81 506.5,303.32 514.5,301.31 522.5,305.21 530.5,309.03 538.5,313.19 546.5,317.21 554.5,320.80 562.5,323.12 570.5,326.71 578.5,340.87 586.5,342.67 594.5,337.38 602.5,332.26 610.5,331.62 618.5,330.40 626.5,327.95 634.5,323.11 642.5,319.60 650.5,316.63 658.5,313.56 666.5,309.10 674.5,303.07 682.5,298.79 690.5,293.81 698.5,288.94 706.5,282.37 714.5,274.25 722.5,265.65 730.5,257.23 738.5,249.94 746.5,244.42 754.5,239.98 762.5,236.55 770.5,235.05 778.5,233.42 786.5,234.67 794.5,233.77 802.5,231.64 810.5,226.99 818.5,220.16 826.5,211.92 834.5,207.48 842.5,197.39 850.5,178.01 858.5,162.30 866.5,150.25 874.5,141.10 882.5,139.91 890.5,136.13 898.5,135.97 906.5,130.96 914.5,127.58 922.5,123.25 930.5,125.33 938.5,132.28 946.5,140.42 954.5,144.91 962.5,148.42 970.5,151.39 978.5,154.42 986.5,153.29 994.5,151.99 1002.5,154.29 1010.5,157.44 1018.5,159.66 1026.5,161.18 1034.5,162.42 1042.5,163.12 1050.5,169.91 1058.5,181.34 1066.5,190.35 1074.5,197.37 1082.5,198.19 1090.5,194.87 1098.5,190.65 1106.5,190.80 1114.5,192.81 1122.5,196.03 1130.5,200.11 1138.5,203.98 1146.5,204.18" fill="none" stroke="#ff0000" stroke-width="2" stroke-linejoin="round" shape-rendering="crispEdges"/>
<polyline points="2.5,192.50 10.5,198.20 18.5,198.80 26.5,191.84 34.5,185.85 42.5,183.35 50.5,179.74 58.5,175.49 66.5,171.89 74.5,163.79 82.5,156.28 90.5,153.20 98.5,149.96 106.5,150.44 114.5,145.96 122.5,143.36 130.5,142.84 138.5,149.56 146.5,159.50 154.5,168.08 162.5,171.06 170.5,170.95 178.5,171.17 186.5,171.37 194.5,173.79 202.5,177.02 210.5,179.97 218.5,183.96 226.5,189.25 234.5,192.67 242.5,195.01 250.5,193.76 258.5,191.56 266.5,187.06 274.5,191.06 282.5,197.10 290.5,208.68 298.5,232.50 306.5,258.51 314.5,276.89 322.5,286.81 330.5,294.53 338.5,298.81 346.5,303.93 354.5,312.33 362.5,319.45 370.5,326.85 378.5,330.94 386.5,336.38 394.5,338.92 402.5,338.46 410.5,336.18 418.5,332.53 426.5,332.12 434.5,335.07 442.5,334.76 450.5,328.98 458.5,321.97 466.5,312.12 474.5,302.17 482.5,298.52 490.5,297.41 498.5,295.36 506.5,302.79 514.5,309.40 522.5,315.98 530.5,321.85 538.5,326.66 546.5,329.20 554.5,333.73 562.5,354.98 570.5,355.05 578.5,344.10 586.5,334.57 594.5,333.09 602.5,330.84 610.5,326.83 618.5,319.32 626.5,314.45 634.5,310.73 642.5,307.00 650.5,301.17 658.5,293.11 666.5,288.26 674.5,282.40 682.5,276.89 690.5,268.79 698.5,258.50 706.5,247.89 714.5,237.98 722.5,230.17 730.5,225.29 738.5,222.01 746.5,220.11 754.5,221.00 762.5,221.20 770.5,225.64 778.5,226.02 786.5,224.16 794.5,218.20 802.5,209.04 810.5,198.08 818.5,193.75 826.5,180.35 834.5,152.75 842.5,132.66 850.5,119.31 858.5,110.86 866.5,115.00 874.5,113.94 882.5,118.12 890.5,113.67 898.5,111.72 906.5,107.97 914.5,114.35 922.5,127.67 930.5,141.61 938.5,148.57 946.5,153.44 954.5,157.19 962.5,160.88 970.5,157.79 978.5,154.79 986.5,157.93 994.5,162.23 1002.5,164.83 1010.5,166.22 1018.5,167.20 1026.5,167.37 1034.5,177.38 1042.5,194.17 1050.5,206.02 1058.5,214.13 1066.5,212.09 1074.5,203.98 1082.5,195.41 1090.5,194.71 1098.5,197.14 1106.5,201.43 1114.5,206.87 1122.5,211.71 1130.5,210.49" fill="none" stroke="#00ff00" stroke-width="2" stroke-linejoin="round" shape-rendering="crispEdges"/>
<path d="M1117.5 201.5H1125.5V212.5H1129.5L1121.5 219.8L1113.5 212.5H1117.5Z" fill="none" stroke="#ff1010" stroke-width="1.1"/>
</g>
<path d="M2.5 2.5H1227.5V473.5H2.5Z M2.5 475.5H1227.5V575.5H2.5Z M2.5 577.5H1227.5V677.5H2.5Z M2.5 679.5H1227.5V779.5H2.5Z" stroke="#000" stroke-width="1" fill="none" shape-rendering="crispEdges"/>
<path d="M1228 17.5H1232 M1228 49.5H1232 M1228 82.5H1232 M1228 115.5H1232 M1228 147.5H1232 M1228 180.5H1232 M1228 212.5H1232 M1228 245.5H1232 M1228 277.5H1232 M1228 310.5H1232 M1228 343.5H1232 M1228 375.5H1232 M1228 408.5H1232 M1228 440.5H1232 M1228 476.5H1232 M1228 574.5H1232 M1228 578.5H1232 M1228 676.5H1232 M1228 680.5H1232 M1228 778.5H1232" stroke="#000" stroke-width="1" shape-rendering="crispEdges"/>
<g font-size="9" fill="#000" stroke="#000" stroke-width="0.25" style="filter:grayscale(1)">
<text x="1233.5" y="21" textLength="32.4" lengthAdjust="spacingAndGlyphs">1.34910</text>
<text x="1233.5" y="53" textLength="32.4" lengthAdjust="spacingAndGlyphs">1.34800</text>
<text x="1233.5" y="86" textLength="32.4" lengthAdjust="spacingAndGlyphs">1.34690</text>
<text x="1233.5" y="119" textLength="32.4" lengthAdjust="spacingAndGlyphs">1.34580</text>
<text x="1233.5" y="151" textLength="32.4" lengthAdjust="spacingAndGlyphs">1.34470</text>
<text x="1233.5" y="184" textLength="32.4" lengthAdjust="spacingAndGlyphs">1.34360</text>
<text x="1233.5" y="216" textLength="32.4" lengthAdjust="spacingAndGlyphs">1.34250</text>
<text x="1233.5" y="249" textLength="32.4" lengthAdjust="spacingAndGlyphs">1.34140</text>
<text x="1233.5" y="281" textLength="32.4" lengthAdjust="spacingAndGlyphs">1.34030</text>
<text x="1233.5" y="314" textLength="32.4" lengthAdjust="spacingAndGlyphs">1.33920</text>
<text x="1233.5" y="347" textLength="32.4" lengthAdjust="spacingAndGlyphs">1.33810</text>
<text x="1233.5" y="379" textLength="32.4" lengthAdjust="spacingAndGlyphs">1.33700</text>
<text x="1233.5" y="412" textLength="32.4" lengthAdjust="spacingAndGlyphs">1.33590</text>
<text x="1233.5" y="444" textLength="32.4" lengthAdjust="spacingAndGlyphs">1.33480</text>
<text x="1233.5" y="484.5" textLength="37.4" lengthAdjust="spacingAndGlyphs">0.005813</text>
<text x="1233.5" y="573" textLength="41.0" lengthAdjust="spacingAndGlyphs">-0.005645</text>
<text x="1233.5" y="586.0" textLength="42.4" lengthAdjust="spacingAndGlyphs">0.0012602</text>
<text x="1233.5" y="675" textLength="46.0" lengthAdjust="spacingAndGlyphs">-0.0019838</text>
<text x="1233.5" y="688.5" textLength="37.4" lengthAdjust="spacingAndGlyphs">0.002787</text>
<text x="1233.5" y="777" textLength="41.0" lengthAdjust="spacingAndGlyphs">-0.002660</text>
</g>
<rect x="1230" y="192" width="39" height="11" fill="#c80000"/>
<text x="1233.5" y="201.2" font-size="9" fill="#fff" stroke="#fff" stroke-width="0.2" textLength="32.4" lengthAdjust="spacingAndGlyphs">1.34301</text>
<g font-size="9" fill="#000" stroke="#000" stroke-width="0.25" style="filter:grayscale(1)">
<text x="2.6" y="792.2" textLength="48" lengthAdjust="spacingAndGlyphs">14 Jan 2026</text>
<text x="66.6" y="792.2" textLength="52" lengthAdjust="spacingAndGlyphs">14 Jan 13:00</text>
<text x="130.6" y="792.2" textLength="52" lengthAdjust="spacingAndGlyphs">14 Jan 21:00</text>
<text x="194.6" y="792.2" textLength="52" lengthAdjust="spacingAndGlyphs">15 Jan 05:00</text>
<text x="258.6" y="792.2" textLength="52" lengthAdjust="spacingAndGlyphs">15 Jan 13:00</text>
<text x="322.6" y="792.2" textLength="52" lengthAdjust="spacingAndGlyphs">15 Jan 21:00</text>
<text x="386.6" y="792.2" textLength="52" lengthAdjust="spacingAndGlyphs">16 Jan 05:00</text>
<text x="450.6" y="792.2" textLength="52" lengthAdjust="spacingAndGlyphs">16 Jan 13:00</text>
<text x="514.6" y="792.2" textLength="52" lengthAdjust="spacingAndGlyphs">16 Jan 21:00</text>
<text x="578.6" y="792.2" textLength="52" lengthAdjust="spacingAndGlyphs">19 Jan 05:00</text>
<text x="642.6" y="792.2" textLength="52" lengthAdjust="spacingAndGlyphs">19 Jan 13:00</text>
<text x="706.6" y="792.2" textLength="52" lengthAdjust="spacingAndGlyphs">19 Jan 21:00</text>
<text x="770.6" y="792.2" textLength="52" lengthAdjust="spacingAndGlyphs">20 Jan 05:00</text>
<text x="834.6" y="792.2" textLength="52" lengthAdjust="spacingAndGlyphs">20 Jan 13:00</text>
<text x="898.6" y="792.2" textLength="52" lengthAdjust="spacingAndGlyphs">20 Jan 21:00</text>
<text x="962.6" y="792.2" textLength="52" lengthAdjust="spacingAndGlyphs">21 Jan 05:00</text>
<text x="1026.6" y="792.2" textLength="52" lengthAdjust="spacingAndGlyphs">21 Jan 13:00</text>
<text x="1090.6" y="792.2" textLength="52" lengthAdjust="spacingAndGlyphs">21 Jan 21:00</text>
</g>
<path d="M2.5 780V784 M66.5 780V784 M130.5 780V784 M194.5 780V784 M258.5 780V784 M322.5 780V784 M386.5 780V784 M450.5 780V784 M514.5 780V784 M578.5 780V784 M642.5 780V784 M706.5 780V784 M770.5 780V784 M834.5 780V784 M898.5 780V784 M962.5 780V784 M1026.5 780V784 M1090.5 780V784" stroke="#000" stroke-width="1" shape-rendering="crispEdges"/>
<g font-size="9" fill="#000" stroke="#000" stroke-width="0.25" style="filter:grayscale(1)">
<text x="5.6" y="488.2" textLength="30.8" lengthAdjust="spacingAndGlyphs">AOcust</text>
<text x="39.5" y="488.2" textLength="41" lengthAdjust="spacingAndGlyphs">-0.001390</text>
<text x="5.6" y="590.2" textLength="29.7" lengthAdjust="spacingAndGlyphs">ACcust</text>
<text x="38.6" y="590.2" textLength="45.9" lengthAdjust="spacingAndGlyphs">-0.0002127</text>
<text x="5.7" y="692.2" textLength="41.8" lengthAdjust="spacingAndGlyphs">GatorCust</text>
<text x="50.6" y="692.2" textLength="37.4" lengthAdjust="spacingAndGlyphs">0.000507</text>
<text x="91.6" y="692.2" textLength="41.8" lengthAdjust="spacingAndGlyphs">-0.000344</text>
<text x="1233.5" y="529.2" textLength="37.4" lengthAdjust="spacingAndGlyphs">0.000000</text>
<text x="1233.5" y="619.2" textLength="42.4" lengthAdjust="spacingAndGlyphs">0.0000000</text>
<text x="1233.5" y="733.2" textLength="37.4" lengthAdjust="spacingAndGlyphs">0.000000</text>
</g>
</svg></body></html>
